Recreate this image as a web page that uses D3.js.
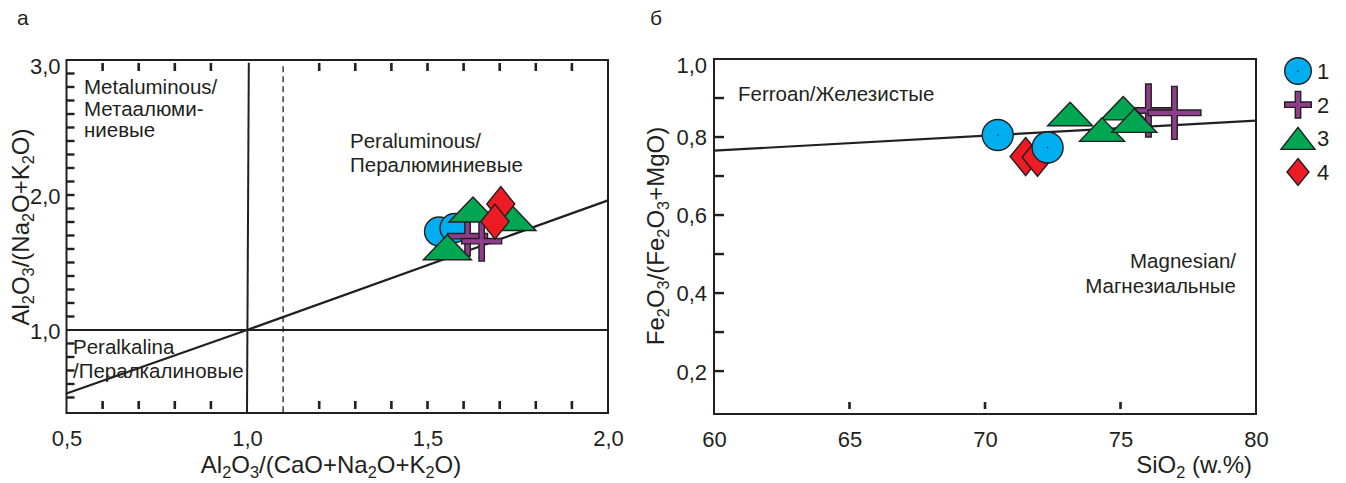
<!DOCTYPE html>
<meta charset="utf-8">
<script src="https://d3js.org/d3.v7.min.js"></script>
<style>
  body { margin: 0; background: #fff; }
  text { font-family: "Liberation Sans", Arial, Helvetica, sans-serif; fill: #231f20; }
</style>
<div id="chart"></div>
<script>
// ---- panel а : Al2O3/(CaO+Na2O+K2O) vs Al2O3/(Na2O+K2O)
const aXTicks = [0.5, 1.0, 1.5, 2.0];
const aYTicks = [1.0, 2.0, 3.0];
const aXMinor = [0.6, 0.7, 0.8, 0.9, 1.2, 1.3, 1.4, 1.5, 1.6, 1.7, 1.8, 1.9];
const aYMinor = [0.5, 0.6, 0.7, 0.8, 0.9, 1.1, 1.2, 1.3, 1.4, 1.5, 1.6, 1.7, 1.8, 1.9,
                 2.0, 2.1, 2.2, 2.3, 2.4, 2.5, 2.6, 2.7, 2.8, 2.9];
const aDiagonal = [[0.5, 0.53], [1.0, 1.0], [2.0, 1.96]];
const aVertical = [[1.0, 0.39], [1.005, 2.98]];
const aDashed = [[1.1, 0.39], [1.1, 2.98]];
const aHorizontal = [[0.5, 1.0], [2.0, 1.0]];
const aCircles = [[1.532, 1.729], [1.575, 1.755]];
const aCrosses = [[1.611, 1.695], [1.650, 1.658]];
const aTriangles = [[1.555, 1.613], [1.734, 1.829], [1.626, 1.892]];
const aDiamonds = [[1.703, 1.933], [1.687, 1.803]];

// ---- panel б : SiO2 vs Fe2O3/(Fe2O3+MgO)
const bXTicks = [60, 65, 70, 75, 80];
const bYTicks = [0.2, 0.4, 0.6, 0.8, 1.0];
const bXMinor = [65, 70, 75];
const bYMinor = [0.2, 0.3, 0.4, 0.5, 0.6, 0.7, 0.8, 0.9];
const bDivider = [[60, 0.765], [80, 0.842]];
const bCircles = [[70.47, 0.805], [72.31, 0.773]];
const bCrosses = [[76.03, 0.868], [76.99, 0.862]];
const bTriangles = [[73.14, 0.859], [75.10, 0.874], [74.32, 0.819], [75.51, 0.842]];
const bDiamonds = [[71.50, 0.750], [71.94, 0.748]];

const legendLabels = ["1", "2", "3", "4"];

const ink = "#231f20";
const colors = { circle: "#00aeef", cross: "#8e3f8c", triangle: "#00a651", diamond: "#ed1c24" };
const comma = d => d3.format(".1f")(d).replace(".", ",");

const svg = d3.select("#chart").append("svg")
  .attr("width", 1346).attr("height", 483);

// marker shapes
const trianglePath = (w, h) => `M0,${-h / 2}L${w / 2},${h / 2}L${-w / 2},${h / 2}Z`;
const diamondPath = (w, h) => `M0,${-h / 2}L${w / 2},0L0,${h / 2}L${-w / 2},0Z`;
const crossPath = (L, t) => `M${-t},${-L}H${t}V${-t}H${L}V${t}H${t}V${L}H${-t}V${t}H${-L}V${-t}H${-t}Z`;

function drawMarkers(g, x, y, kind, data, size) {
  const sel = g.selectAll(null).data(data).join(kind === "circle" ? "circle" : "path")
    .attr("fill", colors[kind]).attr("stroke", ink).attr("stroke-width", 1.4);
  if (kind === "circle") {
    sel.attr("cx", d => x(d[0])).attr("cy", d => y(d[1])).attr("r", size.r);
  } else {
    const p = kind === "cross" ? crossPath(size.L, size.t)
      : kind === "triangle" ? trianglePath(size.w, size.h) : diamondPath(size.w, size.h);
    sel.attr("d", p).attr("transform", d => `translate(${x(d[0])},${y(d[1])})`);
  }
  return sel;
}

function frame(g, x, y) {
  g.append("rect")
    .attr("x", x.range()[0]).attr("y", y.range()[1])
    .attr("width", x.range()[1] - x.range()[0])
    .attr("height", y.range()[0] - y.range()[1])
    .attr("fill", "none").attr("stroke", ink).attr("stroke-width", 2);
}

// tick marks as small filled rects (w x h) centred on scale positions
function vTicks(g, x, values, y0, y1, color) {
  g.selectAll(null).data(values).join("rect")
    .attr("x", d => x(d) - 1.3).attr("width", 2.6)
    .attr("y", Math.min(y0, y1)).attr("height", Math.abs(y1 - y0))
    .attr("fill", color || ink);
}
function hTicks(g, y, values, x0, x1, color) {
  g.selectAll(null).data(values).join("rect")
    .attr("y", d => y(d) - 1.2).attr("height", 2.4)
    .attr("x", Math.min(x0, x1)).attr("width", Math.abs(x1 - x0))
    .attr("fill", color || ink);
}

function subText(sel, parts, size) {
  parts.forEach(([t, sub]) => {
    sel.append("tspan").text(t)
      .attr("font-size", sub ? size * 0.68 : size)
      .attr("dy", sub ? size * 0.22 : 0);
    if (sub) sel.append("tspan").attr("font-size", size).attr("dy", -size * 0.22).text("\u200b");
  });
}

// ================= panel а =================
const ax = d3.scaleLinear().domain([0.5, 2.0]).range([66.5, 608]);
const ay = d3.scaleLinear().domain([0.385, 3.0]).range([413, 60]);
{
  const x = ax, y = ay;
  const g = svg.append("g");
  const line = d3.line().x(d => x(d[0])).y(d => y(d[1]));

  frame(g, x, y);

  // reference lines
  g.append("path").datum(aHorizontal).attr("d", line).attr("fill", "none").attr("stroke", ink).attr("stroke-width", 2);
  g.append("path").datum(aVertical).attr("d", line).attr("fill", "none").attr("stroke", ink).attr("stroke-width", 2);
  g.append("path").datum(aDashed).attr("d", line).attr("fill", "none").attr("stroke", ink)
    .attr("stroke-width", 1.3).attr("stroke-dasharray", "6,4");
  g.append("path").datum(aDiagonal).attr("d", line).attr("fill", "none").attr("stroke", ink).attr("stroke-width", 2.2);

  // axes labels
  g.append("g").attr("transform", `translate(0,${y.range()[0]})`)
    .call(d3.axisBottom(x).tickValues(aXTicks).tickSize(0).tickPadding(17).tickFormat(comma))
    .call(s => s.select(".domain").remove())
    .selectAll("text").attr("font-size", 22).attr("fill", ink);
  g.append("g").attr("transform", `translate(${x.range()[0]},0)`)
    .call(d3.axisLeft(y).tickValues(aYTicks).tickSize(0).tickPadding(6).tickFormat(comma))
    .call(s => s.select(".domain").remove())
    .selectAll("text").attr("font-size", 22).attr("fill", ink)
    .attr("dy", d => d === 3.0 ? "0.62em" : "0.4em");

  // region annotations
  const ann = (lines, tx, ty, lh) => {
    const t = g.append("text").attr("font-size", 20.5);
    lines.forEach((s, i) => t.append("tspan").attr("x", tx).attr("y", ty + i * lh).text(s));
  };
  ann(["Metaluminous/", "Метаалюми-", "ниевые"], 84, 94, 21.5);
  ann(["Peraluminous/", "Пералюминиевые"], 350, 148, 23.5);
  ann(["Peralkalina", "/Пералкалиновые"], 73, 354, 23.5);

  // data
  drawMarkers(g, x, y, "circle", aCircles, { r: 14.5 });
  drawMarkers(g, x, y, "cross", aCrosses, { L: 20, t: 2.7 });
  drawMarkers(g, x, y, "triangle", aTriangles, { w: 48, h: 25 });
  drawMarkers(g, x, y, "diamond", aDiamonds, { w: 28, h: 35 });

  // titles
  const xt = g.append("text").attr("x", 331).attr("y", 473).attr("text-anchor", "middle").attr("font-size", 24);
  subText(xt, [["Al", 0], ["2", 1], ["O", 0], ["3", 1], ["/(CaO+Na", 0], ["2", 1], ["O+K", 0], ["2", 1], ["O)", 0]], 24);
  const yt = g.append("text").attr("transform", "translate(29,227) rotate(-90)")
    .attr("text-anchor", "middle").attr("font-size", 24);
  subText(yt, [["Al", 0], ["2", 1], ["O", 0], ["3", 1], ["/(Na", 0], ["2", 1], ["O+K", 0], ["2", 1], ["O)", 0]], 24);

  g.append("text").attr("x", 17).attr("y", 25).attr("font-size", 21).text("а");
}

// ================= panel б =================
{
  const x = d3.scaleLinear().domain([60, 80]).range([714, 1256]);
  const y = d3.scaleLinear().domain([0.09, 1.0]).range([414, 59]);
  const g = svg.append("g");
  const line = d3.line().x(d => x(d[0])).y(d => y(d[1]));

  frame(g, x, y);

  hTicks(g, y, bYMinor, x.range()[0] - 1, x.range()[0] + 10);
  vTicks(g, x, bXMinor, y.range()[0] - 5, y.range()[0] - 12);

  g.append("path").datum(bDivider).attr("d", line).attr("fill", "none").attr("stroke", ink).attr("stroke-width", 2.2);

  g.append("g").attr("transform", `translate(0,${y.range()[0]})`)
    .call(d3.axisBottom(x).tickValues(bXTicks).tickSize(0).tickPadding(17))
    .call(s => s.select(".domain").remove())
    .selectAll("text").attr("font-size", 22).attr("fill", ink);
  g.append("g").attr("transform", `translate(${x.range()[0]},0)`)
    .call(d3.axisLeft(y).tickValues(bYTicks).tickSize(0).tickPadding(7).tickFormat(comma))
    .call(s => s.select(".domain").remove())
    .selectAll("text").attr("font-size", 22).attr("fill", ink)
    .attr("dy", d => d === 1.0 ? "0.62em" : "0.36em");

  g.append("text").attr("x", 738).attr("y", 101).attr("font-size", 20.5).text("Ferroan/Железистые");
  const mg = g.append("text").attr("font-size", 20.5).attr("text-anchor", "end");
  mg.append("tspan").attr("x", 1236).attr("y", 268).text("Magnesian/");
  mg.append("tspan").attr("x", 1236).attr("y", 293).text("Магнезиальные");

  drawMarkers(g, x, y, "cross", bCrosses, { L: 26.5, t: 2.8 });
  drawMarkers(g, x, y, "triangle", bTriangles, { w: 45, h: 23.5 });
  drawMarkers(g, x, y, "diamond", bDiamonds, { w: 31, h: 38 });
  drawMarkers(g, x, y, "circle", bCircles, { r: 15.5 });
  g.selectAll(null).data(bCircles).join("circle")
    .attr("cx", d => x(d[0])).attr("cy", d => y(d[1])).attr("r", 0.8).attr("fill", ink);

  const xt = g.append("text").attr("x", 1252).attr("y", 473).attr("text-anchor", "end").attr("font-size", 24);
  subText(xt, [["SiO", 0], ["2", 1], [" (w.%)", 0]], 24);
  const yt = g.append("text").attr("transform", "translate(664,236) rotate(-90)")
    .attr("text-anchor", "middle").attr("font-size", 24);
  subText(yt, [["Fe", 0], ["2", 1], ["O", 0], ["3", 1], ["/(Fe", 0], ["2", 1], ["O", 0], ["3", 1], ["+MgO)", 0]], 24);

  g.append("text").attr("x", 650).attr("y", 25).attr("font-size", 21).text("б");
}

// ================= legend =================
{
  const ly = d3.scalePoint().domain(legendLabels).range([71, 172]);
  const g = svg.append("g");
  const kinds = ["circle", "cross", "triangle", "diamond"];
  const sizes = [{ r: 13.3 }, { L: 13.3, t: 2.7 }, { w: 34, h: 22 }, { w: 22, h: 27 }];
  kinds.forEach((k, i) => {
    const lab = legendLabels[i];
    drawMarkers(g, () => 1298, () => ly(lab), k, [[0, 0]], sizes[i]);
  });
  g.append("circle").attr("cx", 1298).attr("cy", ly("1")).attr("r", 0.8).attr("fill", ink);
  g.selectAll(null).data(legendLabels).join("text")
    .attr("x", 1317).attr("y", d => ly(d) + 8).attr("font-size", 22).text(d => d);
}

// ================= panel а ticks (drawn last, on top) =================
{
  const g = svg.append("g");
  hTicks(g, ay, aYMinor, ax.range()[0], ax.range()[0] + 8);
  vTicks(g, ax, aXMinor, ay.range()[1] + 3, ay.range()[1] + 11);
  vTicks(g, ax, aXMinor, ay.range()[0] - 4, ay.range()[0] - 12);
}
</script>
